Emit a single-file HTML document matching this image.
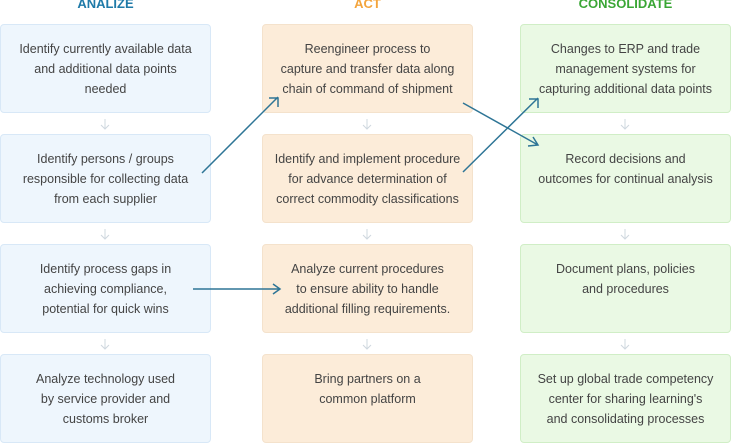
<!DOCTYPE html>
<html><head><style>
body{margin:0;width:731px;height:444px;background:#fff;font-family:"Liberation Sans",Arial,sans-serif;position:relative;overflow:hidden}
.h{position:absolute;top:-4px;width:211px;text-align:center;font-weight:bold;font-size:13px}
.b{position:absolute;width:209px;height:73px;padding-top:14px;border-radius:4px;text-align:center;font-size:12.5px;line-height:20px;color:#444;box-sizing:content-box}
.bl{background:#eef6fd;border:1px solid #d8e8f7}
.or{background:#fcecd9;border:1px solid #f4e2cc}
.gr{background:#eaf9e4;border:1px solid #d0eec6}
</style></head><body>
<div class="h" style="left:0;color:#1f7aa8">ANALIZE</div>
<div class="h" style="left:262px;color:#f3a43c">ACT</div>
<div class="h" style="left:520px;color:#3aa635">CONSOLIDATE</div>

<div class="b bl" style="left:0;top:24px">Identify currently available data<br>and additional data points<br>needed</div>
<div class="b bl" style="left:0;top:134px">Identify persons / groups<br>responsible for collecting data<br>from each supplier</div>
<div class="b bl" style="left:0;top:244px">Identify process gaps in<br>achieving compliance,<br>potential for quick wins</div>
<div class="b bl" style="left:0;top:354px">Analyze technology used<br>by service provider and<br>customs broker</div>

<div class="b or" style="left:262px;top:24px">Reengineer process to<br>capture and transfer data along<br>chain of command of shipment</div>
<div class="b or" style="left:262px;top:134px">Identify and implement procedure<br>for advance determination of<br>correct commodity classifications</div>
<div class="b or" style="left:262px;top:244px">Analyze current procedures<br>to ensure ability to handle<br>additional filling requirements.</div>
<div class="b or" style="left:262px;top:354px">Bring partners on a<br>common platform</div>

<div class="b gr" style="left:520px;top:24px">Changes to ERP and trade<br>management systems for<br>capturing additional data points</div>
<div class="b gr" style="left:520px;top:134px">Record decisions and<br>outcomes for continual analysis</div>
<div class="b gr" style="left:520px;top:244px">Document plans, policies<br>and procedures</div>
<div class="b gr" style="left:520px;top:354px">Set up global trade competency<br>center for sharing learning's<br>and consolidating processes</div>

<svg width="731" height="444" style="position:absolute;left:0;top:0">
<g stroke="#cfd8df" stroke-width="1" fill="none">
<path d="M105 119v10M101 125l4 4 4-4M105 229v10M101 235l4 4 4-4M105 339v10M101 345l4 4 4-4"/>
<path d="M367 119v10M363 125l4 4 4-4M367 229v10M363 235l4 4 4-4M367 339v10M363 345l4 4 4-4"/>
<path d="M625 119v10M621 125l4 4 4-4M625 229v10M621 235l4 4 4-4M625 339v10M621 345l4 4 4-4"/>
</g>
<g stroke="#2e7596" stroke-width="1.5" fill="none">
<path d="M202 173L278 97M269 98h9v9"/>
<path d="M463 103L538 145M528 146l10-1-5-8"/>
<path d="M463 172L538 98M529 99h9v9"/>
<path d="M193 289H280M273 284l7 5-7 5"/>
</g>
</svg>
</body></html>
